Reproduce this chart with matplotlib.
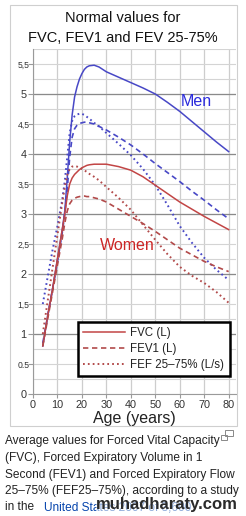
import numpy as np
import matplotlib.pyplot as plt
from matplotlib.ticker import MultipleLocator
from matplotlib.lines import Line2D
from matplotlib.patches import Rectangle

plt.rcParams['font.family'] = ['Liberation Sans', 'DejaVu Sans']

# Age points (years)
ages = [4, 6, 8, 10, 12, 13, 14, 15, 16, 17, 18, 19, 20, 21, 22, 23, 25, 27, 30, 35, 40, 45, 50, 55, 60,
        65, 70, 75, 80]

# Men
men_fvc = [0.8, 1.3, 1.75, 2.25, 2.75, 3.05, 3.6, 4.2, 4.65, 4.95, 5.12, 5.25, 5.34, 5.41, 5.45, 5.47,
           5.48, 5.45, 5.37, 5.28, 5.19, 5.1, 5.0, 4.86, 4.71, 4.54, 4.37, 4.2, 4.04]
men_fev1 = [0.85, 1.3, 1.75, 2.2, 2.7, 3.0, 3.4, 3.95, 4.28, 4.42, 4.48, 4.51, 4.52, 4.53, 4.53, 4.52,
            4.5, 4.46, 4.4, 4.28, 4.15, 4.0, 3.84, 3.69, 3.54, 3.38, 3.23, 3.07, 2.92]
men_fef = [1.5, 1.95, 2.4, 2.8, 3.25, 3.55, 3.95, 4.35, 4.55, 4.63, 4.66, 4.67, 4.67, 4.65, 4.62, 4.59,
           4.52, 4.46, 4.35, 4.17, 3.98, 3.75, 3.48, 3.15, 2.8, 2.52, 2.27, 2.07, 1.9]

# Women
women_fvc = [0.8, 1.3, 1.75, 2.25, 2.75, 3.0, 3.3, 3.5, 3.6, 3.66, 3.7, 3.74, 3.77, 3.79, 3.81, 3.82,
             3.83, 3.83, 3.83, 3.79, 3.73, 3.62, 3.48, 3.34, 3.2, 3.08, 2.96, 2.85, 2.74]
women_fev1 = [0.8, 1.25, 1.7, 2.15, 2.6, 2.85, 3.05, 3.17, 3.23, 3.26, 3.28, 3.29, 3.3, 3.3, 3.29, 3.29,
              3.27, 3.25, 3.2, 3.08, 2.96, 2.84, 2.71, 2.57, 2.43, 2.32, 2.21, 2.12, 2.04]
women_fef = [1.0, 1.55, 2.1, 2.65, 3.2, 3.45, 3.65, 3.75, 3.79, 3.8, 3.79, 3.77, 3.75, 3.73, 3.7, 3.67,
             3.62, 3.56, 3.45, 3.27, 3.07, 2.82, 2.57, 2.33, 2.12, 1.97, 1.85, 1.7, 1.52]

x_ticks = [0, 10, 20, 30, 40, 50, 60, 70, 80]
y_ticks = [0, 0.5, 1, 1.5, 2, 2.5, 3, 3.5, 4, 4.5, 5, 5.5]
y_labels = ['0', '0.5', '1', '1,5', '2', '2,5', '3', '3,5', '4', '4,5', '5', '5,5']
legend_labels = ['FVC (L)', 'FEV1 (L)', 'FEF 25\u201375% (L/s)']

W, H = 246, 516
blue = '#4848c6'
red = '#c24545'
red2 = '#b24a4a'


def fx(x):
    return x / W


def fy(y):
    return 1 - y / H


fig = plt.figure(figsize=(W / 100, H / 100), dpi=100)
fig.patch.set_facecolor('white')

# thumbnail frame
fig.patches.append(Rectangle((fx(10), fy(426)), fx(227), 421 / H, transform=fig.transFigure,
                             fill=False, edgecolor='#cfcfcf', lw=0.8))

ax = fig.add_axes([fx(33), fy(394), fx(203), 345 / H])
ax.set_xlim(0, 83)
ax.set_ylim(0, 5.75)

# grid
ax.yaxis.set_minor_locator(MultipleLocator(0.25))
ax.grid(which='minor', axis='y', color='#d4d4d4', lw=0.8)
ax.grid(which='major', axis='y', color='#d4d4d4', lw=0.8)
ax.grid(which='major', axis='x', color='#cdcdcd', lw=0.9)
for v in range(1, 6):
    ax.axhline(v, color='#8a8a8a', lw=0.9, zorder=1)
ax.set_axisbelow(True)

dash = (0, (3.2, 2.2))
dot = (0, (0.9, 1.6))
ax.plot(ages, men_fvc, color=blue, lw=1.1, zorder=3)
ax.plot(ages, men_fev1, color=blue, lw=1.2, ls=dash, zorder=3)
ax.plot(ages, men_fef, color=blue, lw=1.4, ls=dot, zorder=3)
ax.plot(ages, women_fvc, color=red, lw=1.1, zorder=3)
ax.plot(ages, women_fev1, color=red2, lw=1.2, ls=dash, zorder=3)
ax.plot(ages, women_fef, color=red2, lw=1.4, ls=dot, zorder=3)

ax.text(66.8, 4.87, 'Men', color='#2b2bdc', fontsize=11.5, ha='center', va='center')
ax.text(38.5, 2.47, 'Women', color='#cc2626', fontsize=11.5, ha='center', va='center')

# axes look
for s in ['top', 'right']:
    ax.spines[s].set_visible(False)
ax.spines['left'].set_color('#9a9a9a')
ax.spines['bottom'].set_color('#9a9a9a')
ax.set_xticks(x_ticks)
ax.set_xticklabels([str(t) for t in x_ticks])
ax.set_yticks(y_ticks)
ax.set_yticklabels(y_labels)
ax.tick_params(axis='x', length=3, pad=1.5, colors='#9a9a9a', labelcolor='#333333', labelsize=7.8)
ax.tick_params(axis='y', which='major', length=3.5, pad=3.3, colors='#9a9a9a', labelcolor='#333333')
ax.tick_params(axis='y', which='minor', length=0)
for lab, v in zip(ax.get_yticklabels(), y_ticks):
    lab.set_horizontalalignment('center')
    lab.set_fontsize(7.8 if float(v).is_integer() else 6.2)

ax.set_xlabel('Age (years)', fontsize=11.5, color='#222222', labelpad=0.5)

# legend
handles = [Line2D([], [], color=red, lw=1.1),
           Line2D([], [], color=red2, lw=1.2, ls=dash),
           Line2D([], [], color=red2, lw=1.4, ls=dot)]
leg = ax.legend(handles, legend_labels, loc='lower left', bbox_to_anchor=(fx(78), fy(376)),
                bbox_transform=fig.transFigure, fontsize=8.3, frameon=True, fancybox=False,
                handlelength=3.6, handletextpad=0.5, labelspacing=0.35, borderpad=0.45,
                borderaxespad=0)
leg.get_frame().set_edgecolor('black')
leg.get_frame().set_linewidth(1.8)
leg.get_frame().set_facecolor('white')
leg.get_frame().set_alpha(1)
for t in leg.get_texts():
    t.set_color('#222222')

# title
fig.text(fx(123), fy(18), 'Normal values for', fontsize=10.5, ha='center', va='center', color='#111111')
fig.text(fx(123), fy(38), 'FVC, FEV1 and FEV 25-75%', fontsize=10.5, ha='center', va='center', color='#111111')

# caption
cap_lines = ['Average values for Forced Vital Capacity',
             '(FVC), Forced Expiratory Volume in 1',
             'Second (FEV1) and Forced Expiratory Flow',
             '25\u201375% (FEF25\u201375%), according to a study']
cap_y = [441, 458, 475, 491]
for s, y in zip(cap_lines, cap_y):
    fig.text(fx(5), fy(y), s, fontsize=8.6, ha='left', va='center', color='#222222')
fig.text(fx(5), fy(507), 'in the ', fontsize=8.6, ha='left', va='center', color='#222222')
fig.text(fx(44), fy(507), 'United States 2007 of 3,600', fontsize=8.6, ha='left', va='center',
         color='#0645ad')
fig.text(fx(167), fy(504), 'muhadharaty.com', fontsize=12, fontweight='bold', ha='center', va='center',
         color='#2a2a2a', bbox=dict(facecolor='white', edgecolor='none', alpha=0.55, pad=0))

# magnify icon
fig.patches.append(Rectangle((fx(221), fy(440)), fx(6), 5 / H, transform=fig.transFigure,
                             fill=False, edgecolor='#888888', lw=0.7))
fig.patches.append(Rectangle((fx(225), fy(436)), fx(8), 6 / H, transform=fig.transFigure,
                             fill=False, edgecolor='#888888', lw=0.7))

fig.savefig('out.png', dpi=100)
